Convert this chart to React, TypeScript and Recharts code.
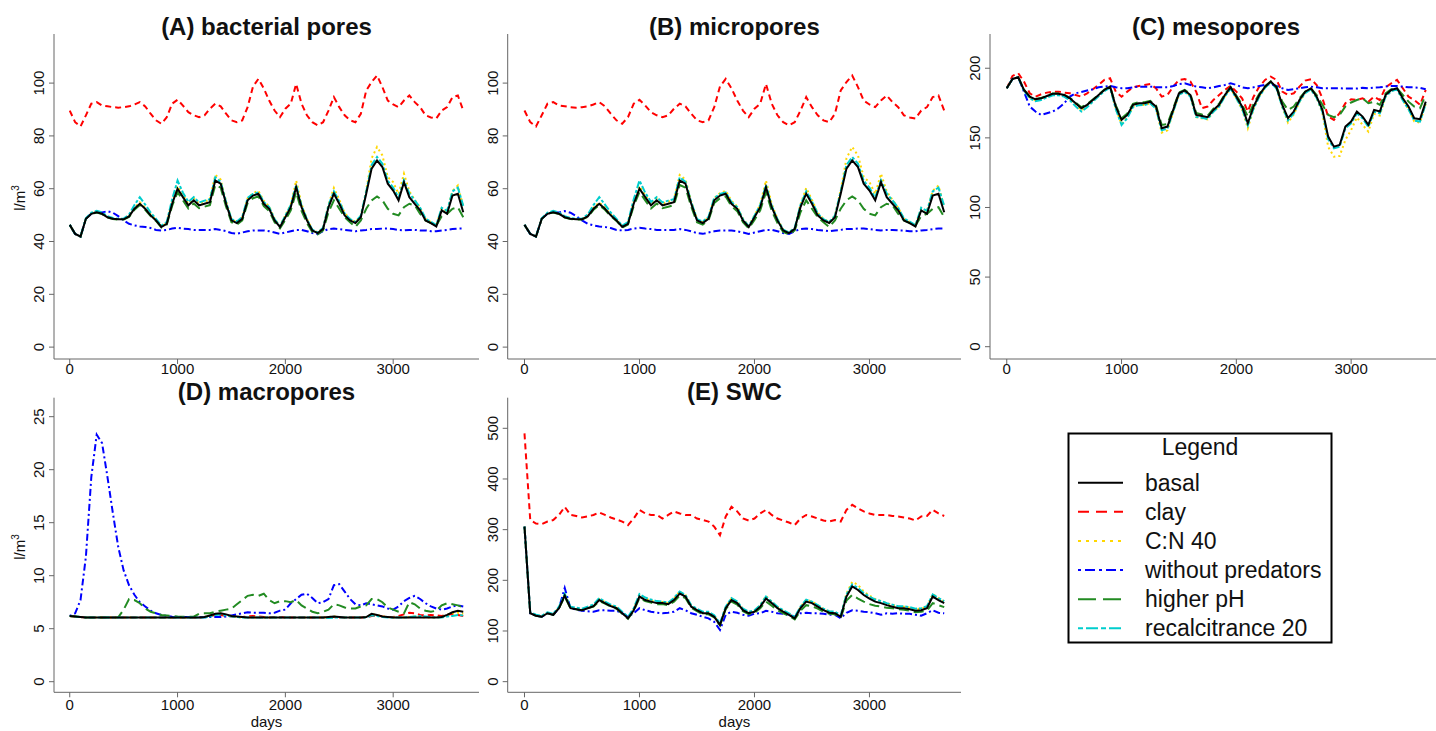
import React from 'react';
import { LineChart, Line, XAxis, YAxis } from 'recharts';

const FONT = 'Liberation Sans, Arial, sans-serif';

const days = [0, 50, 100, 150, 200, 250, 300, 350, 400, 450,
  500, 550, 600, 650, 700, 750, 800, 850, 900, 950,
  1000, 1050, 1100, 1150, 1200, 1250, 1300, 1350, 1400, 1450,
  1500, 1550, 1600, 1650, 1700, 1750, 1800, 1850, 1900, 1950,
  2000, 2050, 2100, 2150, 2200, 2250, 2300, 2350, 2400, 2450,
  2500, 2550, 2600, 2650, 2700, 2750, 2800, 2850, 2900, 2950,
  3000, 3050, 3100, 3150, 3200, 3250, 3300, 3350, 3400, 3450,
  3500, 3550, 3600, 3650];

const xTicks = [0, 1000, 2000, 3000];

// (A) bacterial pores and (B) micropores
const aBasal = [46.3, 42.9, 41.9, 48.6, 50.5, 51.1, 50.5, 49.2, 48.6, 48.4,
  48.4, 49.5, 52.4, 54.3, 52.4, 49.9, 48.0, 45.5, 46.7, 54.3,
  60.0, 56.8, 53.7, 55.6, 53.7, 54.3, 54.9, 63.1, 61.9, 54.3,
  48.0, 47.0, 48.6, 55.6, 57.4, 58.1, 54.3, 52.4, 48.0, 45.5,
  49.2, 53.0, 60.6, 53.0, 48.0, 44.2, 43.2, 44.8, 53.0, 58.1,
  54.3, 49.9, 48.0, 47.0, 49.2, 58.1, 67.6, 70.7, 68.2, 61.9,
  59.3, 55.6, 62.5, 56.8, 54.3, 51.8, 48.0, 47.0, 45.7, 51.8,
  50.5, 57.4, 58.1, 51.1];
const aClay = [89.6, 85.2, 83.6, 87.8, 92.2, 92.8, 91.5, 91.2, 90.9, 90.7,
  90.9, 91.2, 91.9, 92.8, 91.2, 88.4, 85.9, 84.6, 87.1, 92.2,
  93.7, 91.5, 89.0, 87.8, 87.1, 87.8, 90.3, 92.2, 91.2, 88.4,
  85.9, 85.2, 85.9, 90.9, 98.7, 101.6, 98.0, 93.4, 89.6, 87.1,
  90.3, 92.2, 99.7, 92.2, 87.8, 85.2, 84.0, 85.2, 89.6, 94.7,
  90.9, 87.8, 85.9, 85.2, 88.4, 97.2, 100.4, 102.9, 98.5, 93.4,
  91.9, 90.9, 93.4, 95.3, 92.8, 90.9, 87.8, 87.0, 86.6, 89.6,
  90.9, 94.7, 95.3, 89.6];
const aNoPred = [46.3, 42.9, 41.9, 48.6, 50.5, 51.1, 51.0, 51.5, 50.9, 49.6,
  48.0, 46.7, 46.1, 45.7, 45.5, 45.1, 44.4, 44.2, 44.4, 44.9,
  45.2, 44.9, 44.7, 44.4, 44.4, 44.4, 44.4, 44.7, 44.4, 43.9,
  43.2, 42.9, 43.4, 43.9, 44.2, 44.2, 44.2, 43.9, 43.4, 42.9,
  43.4, 43.9, 44.4, 44.4, 43.9, 43.2, 42.9, 43.9, 44.7, 44.9,
  44.7, 44.4, 44.2, 43.9, 44.2, 44.4, 44.7, 44.7, 44.9, 44.9,
  44.7, 44.4, 44.2, 44.4, 44.4, 44.2, 44.2, 43.9, 43.9, 44.2,
  44.4, 44.7, 44.9, 44.9];
const aPh = [46.3, 42.9, 41.9, 48.6, 50.5, 51.0, 50.4, 49.1, 48.5, 48.3,
  48.3, 49.3, 52.0, 53.8, 52.0, 49.6, 47.8, 45.3, 46.4, 53.5,
  58.7, 55.6, 52.5, 54.4, 52.6, 53.2, 53.8, 61.4, 60.4, 53.2,
  47.3, 46.4, 48.0, 54.6, 56.4, 57.1, 53.4, 51.5, 47.3, 45.0,
  48.2, 51.8, 58.7, 51.6, 47.0, 43.6, 42.7, 44.2, 51.1, 55.6,
  52.4, 49.2, 47.3, 45.5, 48.0, 52.4, 55.6, 57.1, 55.6, 52.4,
  50.5, 49.9, 53.0, 54.3, 53.7, 50.5, 48.0, 47.0, 46.0, 49.6,
  50.5, 52.4, 53.0, 49.2];
const aCn = [46.3, 42.9, 41.9, 48.6, 50.6, 51.2, 50.6, 49.3, 48.7, 48.5,
  48.5, 49.7, 52.8, 54.8, 52.8, 50.2, 48.2, 45.7, 47.0, 55.0,
  61.0, 57.6, 54.4, 56.4, 54.4, 55.1, 56.0, 65.2, 63.5, 55.2,
  48.4, 47.3, 49.1, 56.4, 58.3, 59.2, 55.4, 53.3, 48.6, 45.9,
  49.9, 54.0, 63.1, 54.2, 48.6, 44.5, 43.4, 45.1, 54.0, 60.3,
  55.8, 50.8, 48.6, 47.4, 49.8, 59.5, 71.5, 75.8, 72.6, 64.4,
  62.5, 58.0, 65.7, 59.0, 55.8, 52.8, 48.6, 47.4, 46.1, 52.6,
  51.4, 59.2, 61.2, 53.0];
const aRecal = [46.3, 42.9, 41.9, 48.8, 50.9, 51.6, 51.0, 49.6, 48.9, 48.6,
  48.7, 50.2, 53.8, 56.8, 54.0, 51.0, 48.6, 46.0, 47.4, 56.0,
  63.1, 58.5, 55.0, 56.8, 54.8, 55.5, 56.0, 64.3, 62.6, 55.0,
  48.5, 47.6, 49.3, 56.5, 58.0, 58.6, 55.0, 53.0, 48.5, 45.8,
  49.8, 53.8, 61.4, 53.6, 48.4, 44.5, 43.4, 45.2, 53.8, 59.0,
  55.2, 50.6, 48.5, 47.4, 49.8, 59.0, 69.0, 72.0, 69.5, 63.0,
  60.4, 56.6, 63.2, 58.2, 55.6, 52.8, 48.7, 47.5, 46.2, 52.8,
  51.6, 59.0, 60.4, 53.5];

// (C) mesopores
const cBasal = [185.6, 192.3, 193.5, 184.4, 179.6, 177.7, 178.4, 180.1, 181.6, 181.6,
  180.8, 178.4, 174.9, 171.3, 173.7, 177.2, 180.8, 184.4, 186.8, 172.5,
  162.9, 166.5, 173.7, 174.9, 174.9, 176.0, 172.5, 156.9, 158.1, 170.1,
  182.0, 184.0, 180.8, 166.5, 165.7, 164.8, 170.1, 173.7, 180.8, 186.3,
  179.6, 172.5, 160.5, 172.5, 180.8, 186.8, 190.4, 186.3, 173.7, 164.1,
  168.9, 177.2, 183.2, 185.6, 179.6, 170.1, 150.9, 143.7, 144.9, 158.1,
  161.7, 168.9, 165.3, 159.3, 170.1, 168.9, 180.8, 184.4, 185.6, 178.4,
  172.5, 164.1, 163.4, 176.0];
const cClay = [185.6, 194.5, 196.4, 190.4, 182.0, 179.6, 181.3, 182.5, 183.2, 183.2,
  182.5, 182.0, 180.8, 179.6, 182.0, 184.9, 188.0, 191.6, 192.8, 183.2,
  179.6, 183.2, 186.3, 187.3, 188.0, 188.7, 185.6, 179.6, 180.8, 186.8,
  191.6, 192.3, 190.4, 183.2, 171.3, 172.5, 177.2, 180.8, 184.4, 187.3,
  183.2, 178.4, 168.9, 179.6, 186.8, 191.6, 194.0, 191.6, 183.2, 180.8,
  182.0, 186.8, 191.1, 192.1, 188.0, 178.4, 165.3, 162.9, 167.7, 174.9,
  177.7, 177.2, 178.4, 176.0, 179.6, 177.2, 186.3, 189.2, 191.6, 185.6,
  179.6, 177.2, 173.7, 184.4];
const cNoPred = [185.6, 192.3, 193.5, 183.2, 172.5, 168.9, 166.5, 167.7, 168.9, 171.3,
  174.9, 179.6, 182.0, 183.0, 184.0, 184.9, 186.3, 186.8, 187.3, 186.3,
  185.6, 185.6, 186.3, 186.8, 186.8, 186.8, 186.3, 186.3, 186.3, 187.3,
  188.7, 189.2, 188.0, 186.8, 186.3, 185.6, 186.3, 187.3, 188.0, 189.2,
  188.0, 186.3, 185.6, 186.3, 187.3, 188.0, 188.7, 187.3, 185.6, 184.4,
  184.9, 185.6, 186.3, 186.8, 186.3, 185.6, 185.6, 185.6, 185.6, 185.4,
  185.4, 185.4, 185.9, 185.6, 186.1, 186.3, 186.8, 187.3, 187.3, 186.8,
  186.3, 186.3, 185.9, 184.9];
const cPh = [185.6, 192.3, 193.5, 184.6, 179.8, 178.0, 178.6, 180.3, 181.8, 181.8,
  181.0, 178.8, 175.4, 172.0, 174.2, 177.6, 181.1, 184.6, 187.0, 173.4,
  164.0, 167.5, 174.4, 175.6, 175.6, 176.6, 173.3, 159.3, 160.0, 171.2,
  182.6, 184.5, 181.4, 167.8, 166.8, 165.9, 171.0, 174.5, 181.4, 186.6,
  180.4, 174.0, 165.3, 174.4, 181.6, 187.2, 190.6, 186.8, 176.0, 170.1,
  172.5, 178.4, 183.2, 185.6, 180.8, 173.7, 166.5, 164.8, 166.5, 172.5,
  175.4, 177.2, 178.4, 174.9, 176.0, 173.7, 182.0, 184.9, 185.6, 180.8,
  176.0, 172.5, 171.3, 180.8];
const cCn = [185.6, 192.3, 193.5, 184.0, 179.0, 177.0, 177.8, 179.5, 181.0, 181.0,
  180.2, 177.6, 173.8, 169.8, 172.5, 176.4, 180.2, 183.8, 186.4, 170.8,
  160.0, 164.8, 172.4, 173.6, 173.6, 174.8, 170.8, 153.8, 155.4, 168.5,
  181.2, 183.4, 180.0, 164.8, 164.0, 163.2, 168.8, 172.6, 180.0, 185.8,
  178.4, 170.4, 156.9, 170.6, 179.8, 186.2, 190.0, 185.6, 172.0, 161.0,
  166.8, 175.8, 182.4, 185.0, 178.6, 167.6, 143.5, 136.5, 137.0, 148.5,
  155.7, 164.6, 159.3, 154.5, 167.2, 166.0, 179.6, 183.8, 185.0, 177.2,
  170.8, 161.8, 161.0, 174.6];
const cRecal = [185.6, 192.3, 193.5, 183.8, 178.4, 176.4, 177.2, 179.0, 180.6, 180.6,
  179.6, 177.0, 172.6, 168.9, 172.0, 176.0, 179.8, 183.6, 186.0, 170.6,
  159.3, 164.2, 172.2, 173.5, 173.6, 174.8, 170.8, 155.5, 156.6, 168.8,
  181.0, 183.0, 179.6, 165.0, 164.4, 163.5, 168.8, 172.4, 179.8, 185.4,
  178.4, 171.0, 159.0, 171.0, 179.6, 186.0, 189.8, 185.4, 172.4, 162.6,
  167.6, 176.0, 182.2, 184.8, 178.6, 168.8, 149.0, 142.5, 143.6, 156.8,
  160.4, 167.6, 164.0, 157.8, 168.8, 167.6, 179.6, 183.6, 184.8, 177.0,
  170.6, 162.4, 161.7, 174.4];

// (D) macropores
const dBasal = [6.2, 6.15, 6.1, 6.05, 6.05, 6.05, 6.05, 6.05, 6.05, 6.05,
  6.05, 6.05, 6.05, 6.05, 6.05, 6.05, 6.05, 6.05, 6.05, 6.05,
  6.05, 6.05, 6.05, 6.05, 6.05, 6.1, 6.25, 6.4, 6.45, 6.35,
  6.2, 6.15, 6.1, 6.05, 6.05, 6.05, 6.05, 6.05, 6.05, 6.05,
  6.05, 6.05, 6.05, 6.05, 6.05, 6.05, 6.05, 6.05, 6.1, 6.15,
  6.1, 6.05, 6.05, 6.05, 6.05, 6.1, 6.4, 6.3, 6.15, 6.1,
  6.05, 6.05, 6.05, 6.05, 6.05, 6.05, 6.05, 6.05, 6.05, 6.1,
  6.3, 6.55, 6.7, 6.6];
const dClay = [6.2, 6.15, 6.1, 6.05, 6.05, 6.05, 6.05, 6.05, 6.05, 6.05,
  6.05, 6.05, 6.05, 6.05, 6.05, 6.05, 6.05, 6.05, 6.05, 6.05,
  6.05, 6.05, 6.05, 6.05, 6.05, 6.1, 6.2, 6.3, 6.3, 6.2,
  6.15, 6.1, 6.1, 6.15, 6.2, 6.15, 6.1, 6.05, 6.1, 6.1,
  6.05, 6.05, 6.05, 6.05, 6.05, 6.05, 6.05, 6.05, 6.1, 6.1,
  6.05, 6.05, 6.05, 6.05, 6.05, 6.05, 6.2, 6.25, 6.15, 6.1,
  6.1, 6.2, 6.35, 6.5, 6.45, 6.3, 6.25, 6.3, 6.25, 6.2,
  6.3, 6.4, 6.3, 6.2];
const dCn = [6.2, 6.15, 6.1, 6.05, 6.05, 6.05, 6.05, 6.05, 6.05, 6.05,
  6.05, 6.05, 6.05, 6.05, 6.05, 6.05, 6.05, 6.05, 6.05, 6.05,
  6.05, 6.05, 6.05, 6.05, 6.05, 6.1, 6.2, 6.35, 6.4, 6.3,
  6.15, 6.1, 6.05, 6.05, 6.05, 6.05, 6.05, 6.05, 6.05, 6.05,
  6.05, 6.05, 6.05, 6.05, 6.05, 6.05, 6.05, 6.05, 6.1, 6.15,
  6.1, 6.05, 6.05, 6.05, 6.05, 6.1, 6.35, 6.3, 6.15, 6.1,
  6.05, 6.05, 6.05, 6.1, 6.15, 6.1, 6.05, 6.05, 6.05, 6.1,
  6.3, 6.45, 6.5, 6.4];
const dNoPred = [6.2, 6.45, 7.7, 11.8, 19.3, 23.3, 22.5, 19.3, 15.9, 12.7,
  10.5, 9.1, 8.2, 7.5, 7.1, 6.7, 6.45, 6.3, 6.2, 6.13,
  6.1, 6.1, 6.1, 6.08, 6.08, 6.08, 6.1, 6.1, 6.1, 6.15,
  6.25, 6.35, 6.45, 6.55, 6.5, 6.5, 6.5, 6.45, 6.5, 6.7,
  6.8, 7.4, 7.8, 8.2, 8.3, 7.9, 7.4, 7.5, 7.8, 9.1,
  9.2, 8.5, 7.8, 7.3, 7.2, 7.4, 7.3, 7.2, 7.1, 6.9,
  6.8, 7.1, 7.6, 7.9, 8.1, 7.8, 7.4, 7.1, 6.9, 6.8,
  6.9, 7.1, 7.2, 7.1];
const dPh = [6.2, 6.15, 6.1, 6.05, 6.05, 6.05, 6.05, 6.05, 6.05, 6.07,
  6.8, 7.8, 7.7, 7.4, 6.9, 6.6, 6.45, 6.3, 6.25, 6.2,
  6.15, 6.13, 6.13, 6.13, 6.4, 6.45, 6.45, 6.6, 6.7, 6.8,
  6.9, 7.3, 7.7, 8.1, 8.2, 8.1, 8.3, 7.7, 7.4, 7.6,
  7.6, 7.5, 7.7, 7.2, 6.9, 6.6, 6.45, 6.6, 6.8, 7.3,
  7.2, 7.0, 6.9, 6.9, 7.1, 7.2, 7.8, 7.8, 7.5, 7.0,
  6.8, 6.6, 6.45, 7.5, 7.3, 6.9, 6.7, 6.6, 6.7, 7.2,
  7.4, 7.3, 7.2, 7.0];
const dRecal = [6.2, 6.15, 6.1, 6.05, 6.05, 6.05, 6.05, 6.05, 6.05, 6.05,
  6.05, 6.05, 6.05, 6.05, 6.05, 6.05, 6.05, 6.05, 6.05, 6.05,
  6.05, 6.05, 6.05, 6.05, 6.05, 6.05, 6.15, 6.3, 6.35, 6.25,
  6.15, 6.1, 6.05, 6.05, 6.05, 6.05, 6.05, 6.05, 6.05, 6.05,
  6.05, 6.05, 6.05, 6.05, 6.05, 6.05, 6.05, 6.05, 6.0, 6.05,
  6.05, 6.05, 6.05, 6.05, 6.05, 6.05, 6.25, 6.2, 6.1, 6.05,
  6.05, 6.05, 6.05, 6.1, 6.15, 6.2, 6.15, 6.1, 6.05, 6.05,
  6.15, 6.2, 6.3, 6.25];

// (E) SWC
const eBasal = [306, 135, 130, 128, 135, 132, 145, 170, 145, 143,
  141, 145, 149, 161, 155, 149, 145, 135, 125, 141,
  168, 161, 158, 155, 155, 153, 161, 174, 168, 148,
  141, 135, 135, 128, 112, 145, 161, 155, 141, 135,
  138, 148, 164, 155, 145, 138, 132, 125, 145, 158,
  155, 148, 141, 136, 135, 128, 168, 188, 181, 171,
  164, 158, 155, 151, 148, 145, 145, 143, 140, 141,
  145, 168, 161, 155];
const eClay = [490, 319, 312, 311, 316, 319, 329, 345, 329, 327,
  324, 326, 329, 334, 329, 324, 320, 316, 309, 322,
  339, 332, 329, 329, 322, 329, 336, 332, 329, 329,
  322, 319, 316, 306, 289, 326, 345, 336, 322, 318,
  322, 332, 339, 329, 322, 318, 314, 309, 322, 329,
  326, 322, 318, 316, 319, 316, 339, 349, 342, 336,
  332, 329, 329, 329, 327, 326, 324, 322, 318, 326,
  327, 339, 332, 327];
const eNoPred = [306, 135, 130, 128, 135, 132, 145, 185, 145, 142,
  140, 139, 138, 141, 141, 140, 140, 135, 128, 135,
  145, 141, 138, 136, 135, 136, 138, 145, 141, 135,
  132, 128, 125, 118, 102, 132, 138, 136, 132, 130,
  134, 135, 140, 138, 135, 134, 132, 128, 135, 136,
  135, 135, 134, 132, 132, 125, 136, 141, 140, 138,
  137, 135, 132, 135, 134, 135, 134, 134, 132, 130,
  135, 141, 136, 135];
const ePh = [306, 135, 130, 128, 135, 132, 145, 168, 145, 143,
  141, 145, 148, 159, 154, 148, 144, 134, 124, 140,
  165, 159, 156, 153, 153, 151, 158, 170, 165, 146,
  139, 133, 133, 127, 111, 143, 158, 152, 139, 133,
  136, 145, 158, 150, 141, 135, 130, 123, 140, 151,
  149, 144, 138, 134, 133, 126, 160, 171, 164, 158,
  153, 150, 148, 146, 145, 143, 142, 140, 137, 138,
  140, 155, 151, 147];
const eCn = [306, 136, 131, 129, 136, 133, 146, 172, 146, 144,
  142, 146, 150, 163, 157, 150, 146, 136, 126, 143,
  171, 164, 160, 157, 157, 155, 164, 178, 171, 150,
  142, 136, 136, 129, 113, 147, 164, 158, 143, 136,
  140, 151, 169, 158, 147, 140, 133, 126, 147, 162,
  158, 151, 143, 138, 137, 130, 174, 197, 191, 178,
  170, 163, 159, 155, 151, 148, 148, 146, 143, 144,
  148, 173, 165, 158];
const eRecal = [306, 137, 132, 130, 137, 134, 148, 173, 148, 146,
  144, 148, 152, 165, 158, 152, 148, 138, 128, 145,
  173, 166, 162, 159, 158, 156, 165, 178, 171, 151,
  144, 138, 138, 131, 115, 148, 165, 158, 144, 138,
  141, 151, 168, 158, 148, 141, 135, 128, 148, 162,
  158, 151, 144, 139, 138, 131, 172, 192, 185, 175,
  168, 162, 159, 155, 152, 149, 149, 147, 144, 145,
  149, 172, 165, 159];

const yTicksAB = [0, 20, 40, 60, 80, 100];
const yTicksC = [0, 50, 100, 150, 200];
const yTicksD = [0, 5, 10, 15, 20, 25];
const yTicksE = [0, 100, 200, 300, 400, 500];

type SeriesStyle = { key: string; name: string; color: string; dash?: string; legendDash?: string };

// drawing order (basal on top)
const SERIES: SeriesStyle[] = [
  { key: 'clay', name: 'clay', color: '#FF0000', dash: '6 4', legendDash: '11 7' },
  { key: 'cn', name: 'C:N 40', color: '#FFD700', dash: '2 3', legendDash: '3 5' },
  { key: 'nopred', name: 'without predators', color: '#0000FF', dash: '2 3 7 3', legendDash: '3 4 10 4' },
  { key: 'ph', name: 'higher pH', color: '#228B22', dash: '10 5', legendDash: '18 7' },
  { key: 'recal', name: 'recalcitrance 20', color: '#00CDCD', dash: '3 2 7 2', legendDash: '5 3 12 3' },
  { key: 'basal', name: 'basal', color: '#000000' },
];
const LEGEND_ORDER = ['basal', 'clay', 'cn', 'nopred', 'ph', 'recal'];

function buildRows(s: Record<string, number[]>) {
  return days.map((d, i) => {
    const r: Record<string, number> = { day: d };
    Object.keys(s).forEach((k) => { r[k] = s[k][i]; });
    return r;
  });
}

const dataAB = buildRows({ basal: aBasal, clay: aClay, cn: aCn, nopred: aNoPred, ph: aPh, recal: aRecal });
const dataC = buildRows({ basal: cBasal, clay: cClay, cn: cCn, nopred: cNoPred, ph: cPh, recal: cRecal });
const dataD = buildRows({ basal: dBasal, clay: dClay, cn: dCn, nopred: dNoPred, ph: dPh, recal: dRecal });
const dataE = buildRows({ basal: eBasal, clay: eClay, cn: eCn, nopred: eNoPred, ph: ePh, recal: eRecal });

const AXIS = '#666666';

const YTick = (p: any) => {
  const bx = p.x - 3;
  return (
    <text x={bx} y={p.y} transform={`rotate(-90 ${bx} ${p.y})`} textAnchor="middle" fontSize={15} fill="#111" fontFamily={FONT}>
      {p.payload.value}
    </text>
  );
};

type PanelProps = {
  left: number; top: number; width: number; height: number;
  pl: number; pt: number; pr: number; pb: number; tickDy: number;
  data: Record<string, number>[]; yDomain: [number, number]; yTicks: number[];
};

function Panel({ left, top, width, height, pl, pt, pr, pb, tickDy, data, yDomain, yTicks }: PanelProps) {
  const xDomain: [number, number] = [-146, 3796];
  const XTick = (p: any) => (
    <text x={p.x} y={p.y} dy={tickDy} textAnchor="middle" fontSize={15} fill="#111" fontFamily={FONT}>
      {p.payload.value}
    </text>
  );
  return (
    <div style={{ position: 'absolute', left, top, width, height }}>
      <LineChart width={width} height={height} data={data}
        margin={{ top: pt - top, right: left + width - pr, bottom: 0, left: 0 }}>
        <XAxis dataKey="day" type="number" domain={xDomain} ticks={xTicks} allowDataOverflow interval={0}
          height={top + height - pb} tick={(p: any) => <XTick {...p} />} tickSize={5} tickMargin={2}
          axisLine={{ stroke: AXIS }} tickLine={{ stroke: AXIS }} />
        <XAxis xAxisId="t" orientation="top" dataKey="day" type="number" domain={xDomain} allowDataOverflow
          height={0} tick={false} tickLine={false} axisLine={{ stroke: AXIS }} />
        <YAxis type="number" domain={yDomain} ticks={yTicks} allowDataOverflow interval={0}
          width={pl - left} tick={(p: any) => <YTick {...p} />} tickSize={5} tickMargin={2}
          axisLine={{ stroke: AXIS }} tickLine={{ stroke: AXIS }} />
        <YAxis yAxisId="r" orientation="right" type="number" domain={yDomain} allowDataOverflow
          width={0} tick={false} tickLine={false} axisLine={{ stroke: AXIS }} />
        {SERIES.map((s) => (
          <Line key={s.key} type="linear" dataKey={s.key} name={s.name} stroke={s.color}
            strokeDasharray={s.dash} strokeWidth={2} dot={false} isAnimationActive={false} />
        ))}
      </LineChart>
    </div>
  );
}

const Ylab = ({ x, y }: { x: number; y: number }) => (
  <text x={x} y={y} transform={`rotate(-90 ${x} ${y})`} textAnchor="middle" fontSize={15} fill="#111">
    l/m<tspan dy={-6} fontSize={10}>3</tspan>
  </text>
);

export default function App() {
  const legendRowsY = [482.7, 511.8, 540.9, 570.0, 599.2, 628.3];
  return (
    <div style={{ position: 'absolute', left: 0, top: 0, width: 1436, height: 731, overflow: 'hidden', background: '#fff' }}>
      <Panel left={0} top={0} width={480} height={380} pl={54} pt={34} pr={479} pb={359} tickDy={8}
        data={dataAB} yDomain={[-4.5, 118.6]} yTicks={yTicksAB} />
      <Panel left={480} top={0} width={482} height={380} pl={507.7} pt={34} pr={961} pb={359} tickDy={8}
        data={dataAB} yDomain={[-4.5, 118.6]} yTicks={yTicksAB} />
      <Panel left={962} top={0} width={481} height={380} pl={990} pt={34} pr={1442.5} pb={359} tickDy={8}
        data={dataC} yDomain={[-8.84, 224.6]} yTicks={yTicksC} />
      <Panel left={0} top={380} width={480} height={351} pl={54} pt={397.7} pr={479} pb={692.3} tickDy={11}
        data={dataD} yDomain={[-1.0, 26.79]} yTicks={yTicksD} />
      <Panel left={480} top={380} width={482} height={351} pl={507.7} pt={397.7} pr={961} pb={692.3} tickDy={11}
        data={dataE} yDomain={[-21.0, 560.4]} yTicks={yTicksE} />

      <svg width={1436} height={731} style={{ position: 'absolute', left: 0, top: 0, pointerEvents: 'none' }} fontFamily={FONT}>
        <g fontSize={24} fontWeight="bold" fill="#111" textAnchor="middle">
          <text x={266.5} y={35}>(A) bacterial pores</text>
          <text x={734.4} y={35}>(B) micropores</text>
          <text x={1216} y={35}>(C) mesopores</text>
          <text x={266.5} y={400}>(D) macropores</text>
          <text x={734.4} y={400}>(E) SWC</text>
        </g>
        <Ylab x={25} y={198} />
        <Ylab x={25} y={547} />
        <g fontSize={15} fill="#111" textAnchor="middle">
          <text x={266.5} y={727}>days</text>
          <text x={734.4} y={727}>days</text>
        </g>
        <rect x={1068.5} y={433.5} width={263} height={209} fill="#fff" stroke="#000" strokeWidth={2} />
        <text x={1200} y={455} textAnchor="middle" fontSize={23} fill="#111">Legend</text>
        {LEGEND_ORDER.map((k, i) => {
          const s = SERIES.find((q) => q.key === k)!;
          const y = legendRowsY[i];
          return (
            <g key={k}>
              <line x1={1078} x2={1123} y1={y} y2={y} stroke={s.color} strokeWidth={2} strokeDasharray={s.legendDash} />
              <text x={1145} y={y + 8} fontSize={23} fill="#111">{s.name}</text>
            </g>
          );
        })}
      </svg>
    </div>
  );
}
